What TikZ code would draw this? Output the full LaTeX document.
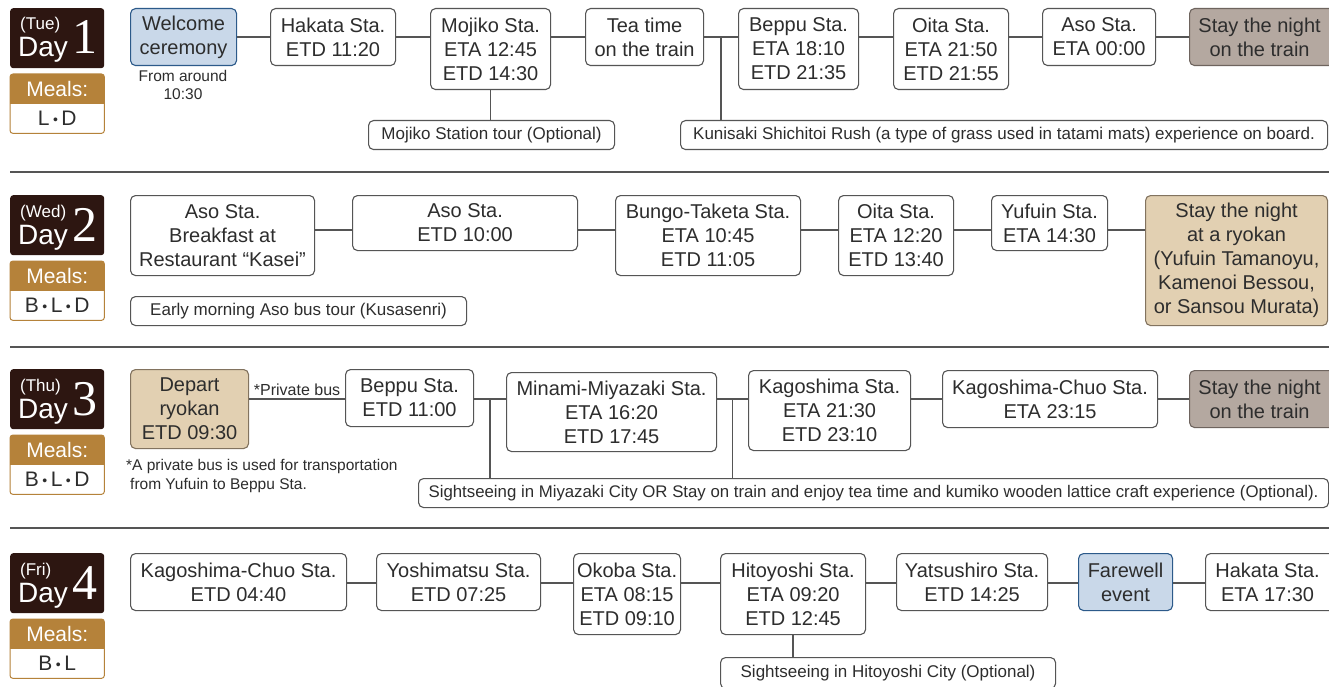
\documentclass[tikz,border=0pt]{standalone}
\usepackage{fontspec}
\setmainfont{Liberation Sans}
\newfontfamily\numfont{Liberation Serif}
\usepackage{tikz}
\usetikzlibrary{calc}
\definecolor{daybrown}{RGB}{45,22,17}
\definecolor{mealgold}{RGB}{181,130,58}
\definecolor{textgrey}{RGB}{45,45,45}
\definecolor{linegrey}{RGB}{85,85,85}
\definecolor{welcomeblue}{RGB}{201,216,233}
\definecolor{welcomeedge}{RGB}{44,90,138}
\definecolor{nightgrey}{RGB}{180,168,160}
\definecolor{nightedge}{RGB}{110,100,94}
\definecolor{ryokantan}{RGB}{226,208,178}
\definecolor{ryokanedge}{RGB}{130,115,95}
\newcommand{\stnfont}{\fontsize{20}{24}\selectfont}
\newcommand{\optfont}{\fontsize{17}{20}\selectfont}
\newcommand{\notefont}{\fontsize{15.5}{19}\selectfont}
\newcommand{\mealfont}{\fontsize{21}{21}\selectfont}
\newcommand{\mdot}{\,{\fontsize{14}{14}\selectfont\raisebox{1pt}{•}}\,}
% one box of the timeline: [style]{name}{left}{top}{right}{bottom}{text}
\newcommand{\stn}[7][stnbox]{
	\node[#1, minimum width=#5-#3, minimum height=#6-#4] (#2) at (#3,#4) {#7};
}
% day label and meals box: {name}{top}{weekday}{number}{meals}
\newcommand{\daylabel}[5]{
	\node[daybox] (#1) at (10,#2) {};
	\node[daytext, anchor=base west, font=\fontsize{17}{17}\selectfont] (#1wd) at ($(#1.north west)+(10,22)$) {(#3)};
	\node[daytext, anchor=base west, font=\fontsize{28}{28}\selectfont] (#1word) at ($(#1.north west)+(8,49)$) {Day};
	\node[daytext, anchor=base east, font=\numfont\fontsize{50}{50}\selectfont] (#1num) at ($(#1.north west)+(88,46)$) {#4};
	\node[mealbox] (#1meals) at (10,#2+66) {};
	\begin{scope}
		\clip[rounded corners=3] (#1meals.north west) rectangle (#1meals.south east);
		\fill[mealgold] (#1meals.north west) rectangle (#1meals.east);
	\end{scope}
	\draw[mealgold, rounded corners=3, line width=1pt] (#1meals.north west) rectangle (#1meals.south east);
	\node[text=white, font=\mealfont] (#1mhead) at ($(#1meals.north)!.25!(#1meals.south)$) {Meals:};
	\node[text=textgrey, font=\mealfont] (#1mlist) at ($(#1meals.north)!.75!(#1meals.south)$) {#5};
}

\begin{document}
\begin{tikzpicture}[x=1pt,y=-1pt,
	stnbox/.style={draw=linegrey, fill=white, rounded corners=5, line width=1.1pt, anchor=north west, align=center, text=textgrey, font=\stnfont, inner sep=2pt},
	welcomebox/.style={stnbox, draw=welcomeedge, fill=welcomeblue},
	nightbox/.style={stnbox, draw=nightedge, fill=nightgrey},
	ryokanbox/.style={stnbox, draw=ryokanedge, fill=ryokantan},
	optbox/.style={stnbox, font=\optfont},
	link/.style={draw=linegrey, line width=1.2pt},
	sepline/.style={draw=linegrey, line width=1.2pt},
	note/.style={text=textgrey, font=\notefont, inner sep=0pt},
	daybox/.style={fill=daybrown, rounded corners=3, anchor=north west, minimum width=94, minimum height=60, inner sep=0pt},
	daytext/.style={text=white, inner sep=0pt},
	mealbox/.style={fill=white, rounded corners=3, anchor=north west, minimum width=94, minimum height=59, inner sep=0pt}]
	\fill[white] (0,0) rectangle (1329,687);
	\useasboundingbox (0,0) rectangle (1329,687);
	% levels of the connectors in each row
	\coordinate (r1) at (0,37);
	\coordinate (r2) at (0,230);
	\coordinate (r3) at (0,399);
	\coordinate (r4) at (0,583);

	% day 1
	\daylabel{day1}{8}{Tue}{1}{L\mdot D}
	\stn[welcomebox]{welcome}{130}{8}{236}{65}{Welcome\\ceremony}
	\node[note, anchor=north, align=center, font=\fontsize{15.5}{18}\selectfont] (fromtime) at (183,70) {From around\\10:30};
	\stn{hakata1}{270}{8}{395}{65}{Hakata Sta.\\ETD 11:20}
	\stn{mojiko}{430}{8}{550}{89}{Mojiko Sta.\\ETA 12:45\\ETD 14:30}
	\stn{tea}{585}{8}{703}{65}{Tea time\\on the train}
	\stn{beppu1}{738}{8}{858}{89}{Beppu Sta.\\ETA 18:10\\ETD 21:35}
	\stn{oita1}{893}{8}{1008}{89}{Oita Sta.\\ETA 21:50\\ETD 21:55}
	\stn{aso1}{1042}{8}{1155}{65}{Aso Sta.\\ETA 00:00}
	\stn[nightbox]{night1}{1189}{8}{1345}{65}{\hspace*{-16pt}Stay the night\\\hspace*{-16pt}on the train}
	\stn[optbox]{mojikotour}{368}{120}{614}{149}{Mojiko Station tour (Optional)}
	\stn[optbox]{kunisaki}{680}{120}{1327}{149}{Kunisaki Shichitoi Rush (a type of grass used in tatami mats) experience on board.}
	\foreach \a/\b in {welcome/hakata1, hakata1/mojiko, mojiko/tea, tea/beppu1, beppu1/oita1, oita1/aso1, aso1/night1}
		\draw[link] (\a.east |- r1) -- (\b.west |- r1);
	\draw[link] (mojiko.south) -- (mojiko.south |- mojikotour.north);
	\coordinate (k1) at ($(tea.east)!.5!(beppu1.west)$);
	\draw[link] (k1 |- r1) -- (k1 |- kunisaki.north);
	\draw[sepline] (10,172) -- (1329,172);

	% day 2
	\daylabel{day2}{195}{Wed}{2}{B\mdot L\mdot D}
	\stn{breakfast}{130}{195}{314}{275}{Aso Sta.\\Breakfast at\\Restaurant “Kasei”}
	\stn{aso2}{352}{195}{577}{250}{Aso Sta.\\ETD 10:00}
	\stn{bungo}{615}{195}{800}{275}{Bungo-Taketa Sta.\\ETA 10:45\\ETD 11:05}
	\stn{oita2}{838}{195}{953}{275}{Oita Sta.\\ETA 12:20\\ETD 13:40}
	\stn{yufuin}{991}{195}{1107}{250}{Yufuin Sta.\\ETA 14:30}
	\stn[ryokanbox]{ryokan}{1145}{195}{1327}{325}{Stay the night\\at a ryokan\\(Yufuin Tamanoyu,\\Kamenoi Bessou,\\or Sansou Murata)}
	\stn[optbox]{asotour}{130}{296}{466}{325}{Early morning Aso bus tour (Kusasenri)}
	\foreach \a/\b in {breakfast/aso2, aso2/bungo, bungo/oita2, oita2/yufuin, yufuin/ryokan}
		\draw[link] (\a.east |- r2) -- (\b.west |- r2);
	\draw[sepline] (10,347) -- (1329,347);

	% day 3
	\daylabel{day3}{369}{Thu}{3}{B\mdot L\mdot D}
	\stn[ryokanbox]{depart}{130}{369}{248}{448}{Depart\\ryokan\\ETD 09:30}
	\stn{beppu3}{345}{369}{473}{426}{Beppu Sta.\\ETD 11:00}
	\stn{minami}{506}{372}{716}{451}{Minami-Miyazaki Sta.\\ETA 16:20\\ETD 17:45}
	\stn{kago}{748}{370}{910}{450}{Kagoshima Sta.\\ETA 21:30\\ETD 23:10}
	\stn{kagochuo3}{942}{370}{1157}{427}{Kagoshima-Chuo Sta.\\ETA 23:15}
	\stn[nightbox]{night3}{1189}{370}{1345}{427}{\hspace*{-16pt}Stay the night\\\hspace*{-16pt}on the train}
	\node[note, anchor=north west, align=left] (busnote) at (126,459) {*A private bus is used for transportation\\\hspace*{4pt}from Yufuin to Beppu Sta.};
	\stn[optbox]{miyazaki}{418}{478}{1328}{507}{\fontsize{16.8}{20}\selectfont Sightseeing in Miyazaki City OR Stay on train and enjoy tea time and kumiko wooden lattice craft experience (Optional).}
	\draw[link] (depart.east |- r3) -- node[note, above=3pt, font=\fontsize{16}{16}\selectfont] (buslabel) {*Private bus} (beppu3.west |- r3);
	\foreach \a/\b in {beppu3/minami, minami/kago, kago/kagochuo3, kagochuo3/night3}
		\draw[link] (\a.east |- r3) -- (\b.west |- r3);
	\coordinate (m1) at ($(beppu3.east)!.5!(minami.west)$);
	\coordinate (m2) at ($(minami.east)!.5!(kago.west)$);
	\draw[link] (m1 |- r3) -- (m1 |- miyazaki.north);
	\draw[link] (m2 |- r3) -- (m2 |- miyazaki.north);
	\draw[sepline] (10,528) -- (1329,528);

	% day 4
	\daylabel{day4}{553}{Fri}{4}{B\mdot L}
	\stn{kagochuo4}{130}{553}{346}{610}{Kagoshima-Chuo Sta.\\ETD 04:40}
	\stn{yoshi}{376}{553}{540}{610}{Yoshimatsu Sta.\\ETD 07:25}
	\stn{okoba}{573}{553}{680}{634}{Okoba Sta.\\ETA 08:15\\ETD 09:10}
	\stn{hitoyoshi}{720}{553}{865}{634}{Hitoyoshi Sta.\\ETA 09:20\\ETD 12:45}
	\stn{yatsu}{896}{553}{1047}{610}{Yatsushiro Sta.\\ETD 14:25}
	\stn[welcomebox]{farewell}{1078}{553}{1172}{610}{Farewell\\event}
	\stn{hakata4}{1205}{553}{1345}{610}{\hspace*{-16pt}Hakata Sta.\\\hspace*{-16pt}ETA 17:30}
	\stn[optbox]{hitotour}{720}{657}{1055}{688}{Sightseeing in Hitoyoshi City (Optional)}
	\foreach \a/\b in {kagochuo4/yoshi, yoshi/okoba, okoba/hitoyoshi, hitoyoshi/yatsu, yatsu/farewell, farewell/hakata4}
		\draw[link] (\a.east |- r4) -- (\b.west |- r4);
	\draw[link] (hitoyoshi.south) -- (hitoyoshi.south |- hitotour.north);
\end{tikzpicture}
\end{document}
